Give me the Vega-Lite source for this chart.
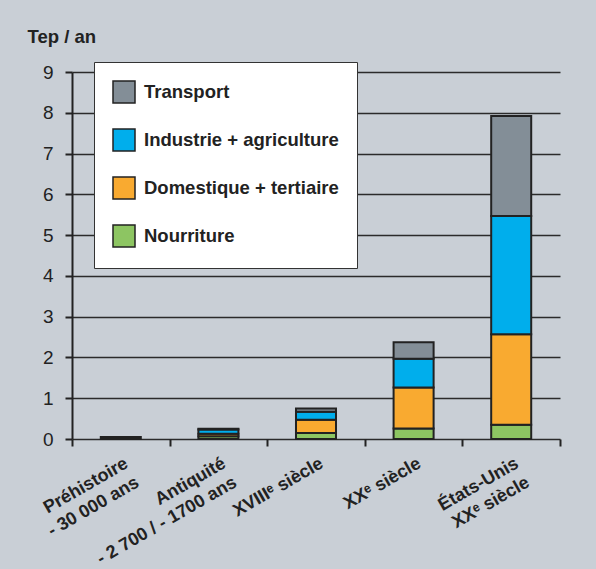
{
  "$schema": "https://vega.github.io/schema/vega-lite/v6.json",
  "autosize": "none",
  "width": 488,
  "height": 367,
  "padding": {"left": 72, "top": 72, "right": 36, "bottom": 130},
  "background": "#c9cfd6",
  "config": {
    "font": "Liberation Sans",
    "view": {"stroke": null}
  },
  "data": {
    "values": [
      {"periode": "Préhistoire\n- 30 000 ans", "poste": "Nourriture", "ordre": 1, "tep": 0.05},
      {"periode": "Antiquité\n- 2 700 / - 1700 ans", "poste": "Nourriture", "ordre": 1, "tep": 0.07},
      {"periode": "Antiquité\n- 2 700 / - 1700 ans", "poste": "Domestique + tertiaire", "ordre": 2, "tep": 0.06},
      {"periode": "Antiquité\n- 2 700 / - 1700 ans", "poste": "Industrie + agriculture", "ordre": 3, "tep": 0.1},
      {"periode": "Antiquité\n- 2 700 / - 1700 ans", "poste": "Transport", "ordre": 4, "tep": 0.02},
      {"periode": "XVIIIᵉ siècle", "poste": "Nourriture", "ordre": 1, "tep": 0.15},
      {"periode": "XVIIIᵉ siècle", "poste": "Domestique + tertiaire", "ordre": 2, "tep": 0.32},
      {"periode": "XVIIIᵉ siècle", "poste": "Industrie + agriculture", "ordre": 3, "tep": 0.2},
      {"periode": "XVIIIᵉ siècle", "poste": "Transport", "ordre": 4, "tep": 0.08},
      {"periode": "XXᵉ siècle", "poste": "Nourriture", "ordre": 1, "tep": 0.26},
      {"periode": "XXᵉ siècle", "poste": "Domestique + tertiaire", "ordre": 2, "tep": 1.0},
      {"periode": "XXᵉ siècle", "poste": "Industrie + agriculture", "ordre": 3, "tep": 0.71},
      {"periode": "XXᵉ siècle", "poste": "Transport", "ordre": 4, "tep": 0.4},
      {"periode": "États-Unis\nXXᵉ siècle", "poste": "Nourriture", "ordre": 1, "tep": 0.35},
      {"periode": "États-Unis\nXXᵉ siècle", "poste": "Domestique + tertiaire", "ordre": 2, "tep": 2.22},
      {"periode": "États-Unis\nXXᵉ siècle", "poste": "Industrie + agriculture", "ordre": 3, "tep": 2.9},
      {"periode": "États-Unis\nXXᵉ siècle", "poste": "Transport", "ordre": 4, "tep": 2.45}
    ]
  },
  "mark": {"type": "bar", "width": {"band": 0.41}, "stroke": "#222222", "strokeWidth": 2},
  "encoding": {
    "x": {
      "field": "periode",
      "type": "nominal",
      "sort": null,
      "scale": {"paddingInner": 0, "paddingOuter": 0},
      "axis": {
        "title": null,
        "domain": false,
        "tickBand": "extent",
        "ticks": true,
        "tickSize": 7,
        "tickColor": "#222222",
        "tickWidth": 2,
        "labelAngle": -30,
        "labelAlign": "right",
        "labelBaseline": "top",
        "labelFont": "Liberation Sans",
        "labelFontWeight": "bold",
        "labelFontSize": 18,
        "labelColor": "#222222",
        "labelLineHeight": 22,
        "labelPadding": 8,
        "labelExpr": "split(datum.label, '\\n')",
        "labelOffset": 1
      }
    },
    "y": {
      "field": "tep",
      "type": "quantitative",
      "aggregate": "sum",
      "stack": "zero",
      "scale": {"domain": [0, 9], "nice": false},
      "axis": {
        "title": "Tep / an",
        "titleAngle": 0,
        "titleAlign": "left",
        "titleBaseline": "alphabetic",
        "titleX": -45,
        "titleY": -30,
        "titleFont": "Liberation Sans",
        "titleFontWeight": "bold",
        "titleFontSize": 18.5,
        "titleColor": "#222222",
        "values": [0, 1, 2, 3, 4, 5, 6, 7, 8, 9],
        "grid": true,
        "gridColor": "#2b2b2b",
        "gridWidth": 1.5,
        "gridOpacity": 1,
        "domain": true,
        "domainColor": "#222222",
        "domainWidth": 2,
        "tickSize": 7,
        "tickColor": "#222222",
        "tickWidth": 2,
        "labelFont": "Liberation Sans",
        "labelFontSize": 19,
        "labelColor": "#222222",
        "labelPadding": 12
      }
    },
    "color": {
      "field": "poste",
      "type": "nominal",
      "scale": {
        "domain": ["Transport", "Industrie + agriculture", "Domestique + tertiaire", "Nourriture"],
        "range": ["#838e97", "#00aeec", "#f9aa30", "#8dc562"]
      },
      "legend": {
        "title": null,
        "orient": "none",
        "legendX": 22,
        "legendY": -10,
        "fillColor": "#ffffff",
        "strokeColor": "#333333",
        "padding": 18,
        "symbolType": "square",
        "symbolSize": 484,
        "symbolStrokeColor": "#222222",
        "symbolStrokeWidth": 1.5,
        "symbolOpacity": 1,
        "rowPadding": 20,
        "labelOffset": 8,
        "labelFont": "Liberation Sans",
        "labelFontWeight": "bold",
        "labelFontSize": 18.5,
        "labelColor": "#222222",
        "labelLimit": 300
      }
    },
    "order": {"field": "ordre", "type": "quantitative"}
  }
}
